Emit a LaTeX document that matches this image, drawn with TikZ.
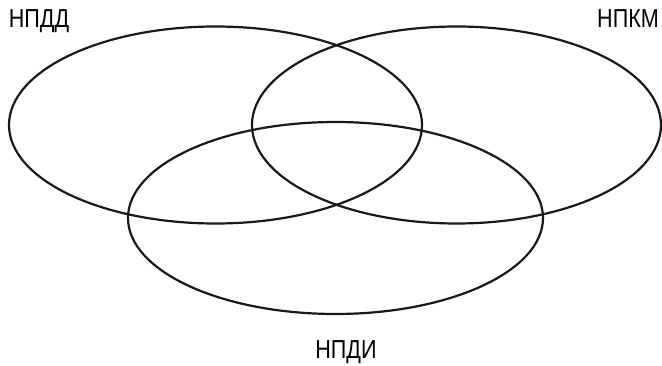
\documentclass[tikz,border=0pt]{standalone}
\usepackage{fontspec}
\setmainfont{Liberation Sans}
\begin{document}
\begin{tikzpicture}[x=1pt,y=-1pt,
  ell/.style={draw=black!90,line width=2.2pt},
  lbl/.style={inner sep=0pt,anchor=base,font=\fontsize{26}{28}\selectfont,xscale=0.83}]
\useasboundingbox (0,0) rectangle (662,366);
\draw[ell] (215.5,125) ellipse [x radius=206.5,y radius=98.5];
\draw[ell] (456.5,125) ellipse [x radius=204.5,y radius=98.5];
\draw[ell] (335.5,218) ellipse [x radius=207.5,y radius=96];
\node[lbl] (a) at (39,28) {НПДД};
\node[lbl] (b) at (628,28) {НПКМ};
\node[lbl] (c) at (346,359) {НПДИ};
\end{tikzpicture}
\end{document}
